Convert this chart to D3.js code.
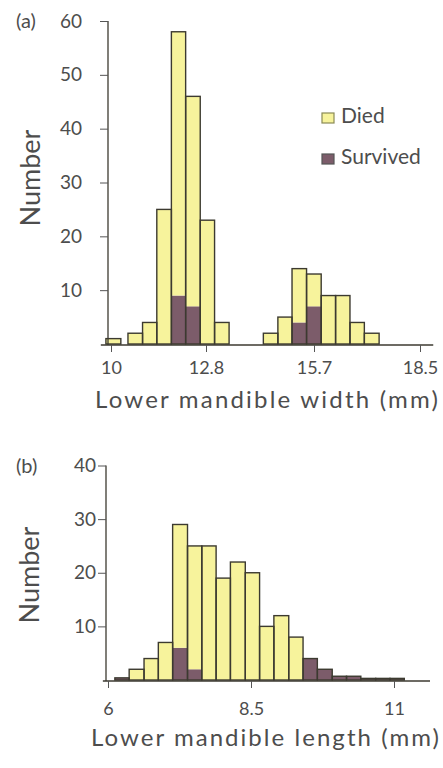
<!DOCTYPE html>
<html>
<head>
<meta charset="utf-8">
<script src="https://cdn.jsdelivr.net/npm/d3@7"></script>
<style>
  body { margin: 0; background: #fff; }
  svg text { font-family: Lato, "Open Sans", sans-serif; fill: #4d4d4d; }
</style>
</head>
<body>
<svg id="chart" width="443" height="768"></svg>
<script>
"use strict";

// (a) lower mandible width, bins in mm (lower / upper edge)
const widthLo = [9.85, 10.50, 10.93, 11.35, 11.78, 12.20, 12.63, 13.03,
                 14.34, 14.73, 15.11, 15.50, 15.89, 16.27, 16.65, 17.03];
const widthHi = [10.29, 10.93, 11.35, 11.78, 12.20, 12.63, 13.03, 13.42,
                 14.73, 15.11, 15.50, 15.89, 16.27, 16.65, 17.03, 17.42];
const widthSurvived = [0, 0, 0, 0, 9, 7, 0, 0, 0, 0, 4, 7, 0, 0, 0, 0];
const widthDied     = [1, 2, 4, 25, 49, 39, 23, 4, 2, 5, 10, 6, 9, 9, 4, 2];
const widthTicks = [10, 12.8, 15.7, 18.5];
const widthCountTicks = [10, 20, 30, 40, 50, 60];

// (b) lower mandible length
const lengthLo = [6.12, 6.37, 6.63, 6.88, 7.13, 7.39, 7.64, 7.89, 8.14, 8.40,
                  8.65, 8.90, 9.16, 9.41, 9.66, 9.92, 10.17, 10.42, 10.68, 10.93];
const lengthHi = [6.37, 6.63, 6.88, 7.13, 7.39, 7.64, 7.89, 8.14, 8.40, 8.65,
                  8.90, 9.16, 9.41, 9.66, 9.92, 10.17, 10.42, 10.68, 10.93, 11.18];
const lengthSurvived = [0.4, 0, 0, 0, 6, 2, 0, 0, 0, 0, 0, 0, 0, 4, 2, 0.7, 0.7, 0.3, 0.3, 0.3];
const lengthDied     = [0, 2, 4, 7, 23, 23, 25, 19, 22, 20, 10, 12, 8, 0, 0, 0, 0, 0, 0, 0];
const lengthTicks = [6, 8.5, 11];
const lengthCountTicks = [10, 20, 30, 40];

const legendLabels = ["Died", "Survived"];

const COLOR_DIED = "#f7f39c";
const COLOR_SURVIVED = "#7c5c6a";
const COLOR_LINE = "#3c3a30";

const svg = d3.select("#chart");

/**
 * Draws one stacked histogram panel.
 */
function drawPanel(p) {
  const g = svg.append("g");
  const rows = p.lo.map((lo, i) => ({ lo, hi: p.hi[i], survived: p.survived[i], died: p.died[i] }));

  const x = d3.scaleLinear().domain(p.xDomain).range(p.xRange);
  const y = d3.scaleLinear().domain([0, p.yMax]).range([p.y0, p.yTop]);

  const stacked = d3.stack().keys(["survived", "died"])(rows);
  const colors = { survived: COLOR_SURVIVED, died: COLOR_DIED };

  g.selectAll("g.layer")
      .data(stacked)
    .enter().append("g")
      .attr("class", "layer")
      .attr("fill", d => colors[d.key])
    .selectAll("rect")
      .data(d => d)
    .enter().append("rect")
      .attr("x", d => x(d.data.lo))
      .attr("width", d => x(d.data.hi) - x(d.data.lo))
      .attr("y", d => y(d[1]))
      .attr("height", d => y(d[0]) - y(d[1]));

  // outline of each bar
  g.selectAll("rect.outline")
      .data(rows)
    .enter().append("rect")
      .attr("class", "outline")
      .attr("x", d => x(d.lo))
      .attr("width", d => x(d.hi) - x(d.lo))
      .attr("y", d => y(d.survived + d.died))
      .attr("height", d => y(0) - y(d.survived + d.died))
      .attr("fill", "none")
      .attr("stroke", COLOR_LINE)
      .attr("stroke-width", 1.4);

  // baseline, a bit longer than the tick range
  g.append("line")
      .attr("x1", x(p.lineFrom)).attr("x2", x(p.lineTo))
      .attr("y1", y(0) + 1).attr("y2", y(0) + 1)
      .attr("stroke", COLOR_LINE)
      .attr("stroke-width", 1.5);

  const xAxis = g.append("g")
      .attr("transform", `translate(0,${y(0) + 1})`)
      .call(d3.axisBottom(x).tickValues(p.xTicks).tickSize(7).tickSizeOuter(0).tickFormat(d3.format("")));
  xAxis.select(".domain").remove();
  xAxis.selectAll("line").attr("stroke", "#555");
  xAxis.selectAll("text")
      .attr("font-size", 18)
      .attr("dy", null)
      .attr("y", p.xLabelY - y(0) - 1)
      .style("font-family", "Lato")
      .attr("fill", "#555");

  const yAxis = g.append("g")
      .attr("transform", `translate(${p.axisX},0)`)
      .call(d3.axisLeft(y).tickValues(p.yTicks).tickSize(8).tickSizeOuter(0));
  yAxis.select(".domain")
      .attr("d", `M0,${y(p.yMax)}V${y(0) + 1}`)
      .attr("stroke", COLOR_LINE)
      .attr("stroke-width", 1.3);
  yAxis.selectAll("line").attr("stroke", "#555");
  yAxis.selectAll("text")
      .attr("font-size", 19)
      .attr("x", -p.yLabelGap)
      .attr("fill", "#555");

  svg.append("text")
      .attr("x", 16)
      .attr("y", y(p.yMax) + 7)
      .attr("font-size", 20)
      .text(p.tag);

  svg.append("text")
      .attr("transform", `translate(${p.yTitleX},${p.yTitleY}) rotate(-90)`)
      .attr("text-anchor", "middle")
      .attr("font-size", 27)
      .text("Number");

  svg.append("text")
      .attr("x", p.xTitleX)
      .attr("y", p.xTitleY)
      .attr("font-size", 24)
      .attr("textLength", p.xTitleLen)
      .attr("lengthAdjust", "spacing")
      .text(p.xTitle);
}

drawPanel({
  lo: widthLo, hi: widthHi, survived: widthSurvived, died: widthDied,
  xDomain: [10, 12.8, 15.7, 18.5], xRange: [111, 206, 314, 420],
  lineFrom: 9.7, lineTo: 18.85,
  xTicks: widthTicks, yTicks: widthCountTicks,
  yMax: 60, y0: 344, yTop: 21, axisX: 108, yLabelGap: 26,
  xLabelY: 374, tag: "(a)",
  yTitleX: 40, yTitleY: 178,
  xTitle: "Lower mandible width (mm)", xTitleX: 95, xTitleY: 408, xTitleLen: 343
});

drawPanel({
  lo: lengthLo, hi: lengthHi, survived: lengthSurvived, died: lengthDied,
  xDomain: [6, 11], xRange: [108, 394],
  lineFrom: 5.91, lineTo: 11.63,
  xTicks: lengthTicks, yTicks: lengthCountTicks,
  yMax: 40, y0: 680, yTop: 465.5, axisX: 106, yLabelGap: 10,
  xLabelY: 715, tag: "(b)",
  yTitleX: 39, yTitleY: 575,
  xTitle: "Lower mandible length (mm)", xTitleX: 91, xTitleY: 746, xTitleLen: 348
});

// legend
const legend = svg.append("g").attr("transform", "translate(322,113)");
legend.selectAll("rect")
    .data(legendLabels)
  .enter().append("rect")
    .attr("x", 0)
    .attr("y", (d, i) => i * 41)
    .attr("width", 12)
    .attr("height", 10)
    .attr("fill", (d, i) => i === 0 ? COLOR_DIED : COLOR_SURVIVED)
    .attr("stroke", (d, i) => i === 0 ? "#8a8a55" : "#555")
    .attr("stroke-width", 1.2);
legend.selectAll("text")
    .data(legendLabels)
  .enter().append("text")
    .attr("x", 19)
    .attr("y", (d, i) => 10 + i * 41)
    .attr("font-size", 21)
    .text(d => d);
</script>
</body>
</html>
